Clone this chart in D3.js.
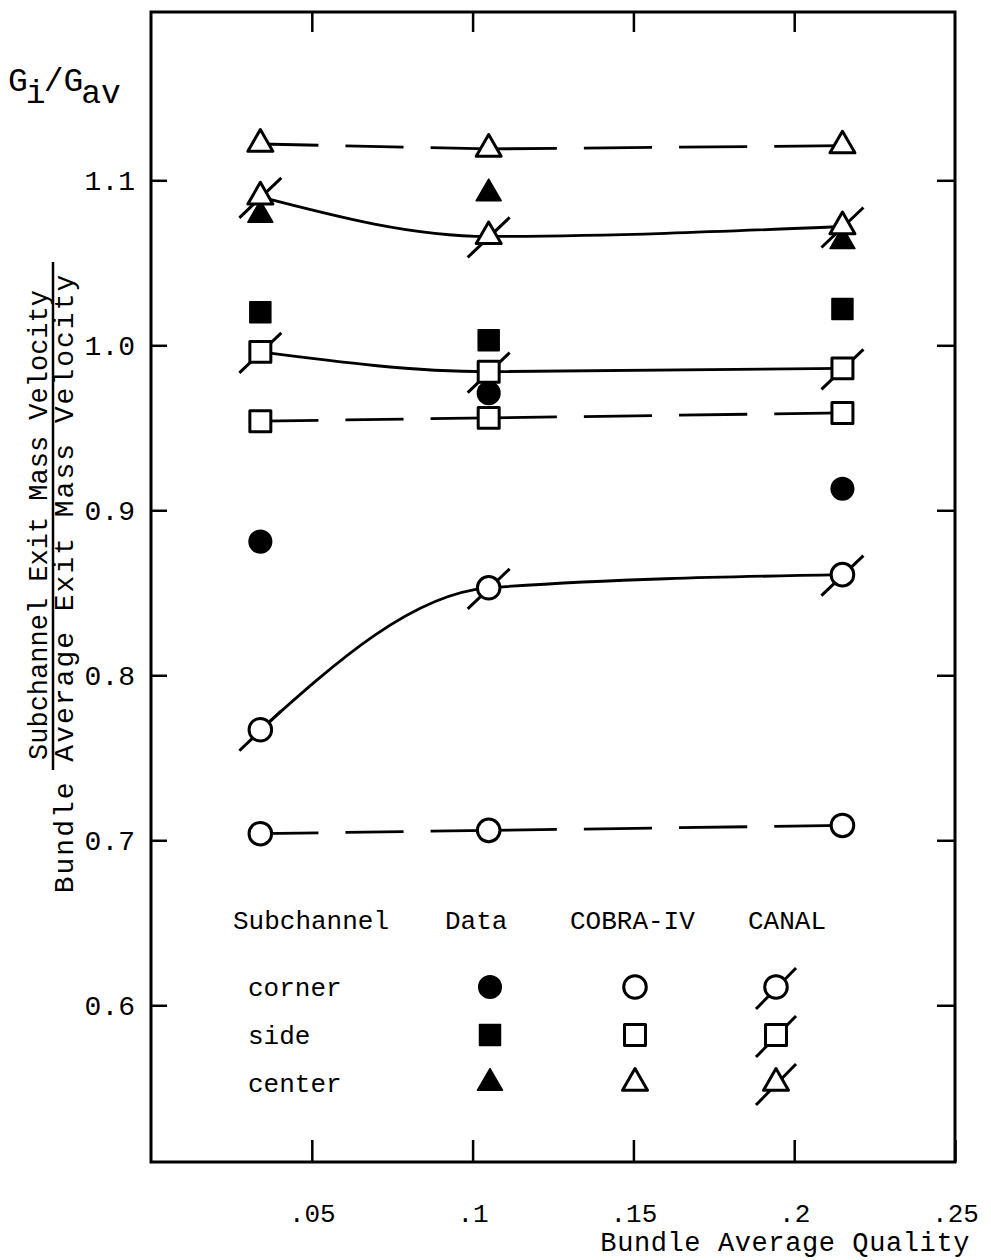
<!DOCTYPE html>
<html>
<head>
<meta charset="utf-8">
<script src="https://cdn.jsdelivr.net/npm/d3@7"></script>
<style>
  body { margin: 0; background: #fff; }
  text { font-family: "Liberation Mono", "DejaVu Sans Mono", monospace; fill: #000; }
</style>
</head>
<body>
<div id="chart"></div>
<script>
var width = 991,
    height = 1260;

// x positions (bundle average quality) of the three test points
var quality = [0.034, 0.105, 0.215];

// measured data (filled markers)
var dataCorner = [0.881, 0.971, 0.913];
var dataSide   = [1.020, 1.003, 1.022];
var dataCenter = [1.079, 1.092, 1.063];

// COBRA-IV predictions (open markers, dashed lines)
var cobraCorner = [0.704, 0.706, 0.709];
var cobraSide   = [0.954, 0.956, 0.959];
var cobraCenter = [1.122, 1.119, 1.121];

// CANAL predictions (slashed markers, solid curves)
var canalCorner = [0.767, 0.853, 0.861];
var canalSide   = [0.996, 0.984, 0.986];
var canalCenter = [1.090, 1.066, 1.072];

var xTickValues = [0.05, 0.1, 0.15, 0.2, 0.25];
var xTickLabels = [".05", ".1", ".15", ".2", ".25"];
var yTickValues = [0.6, 0.7, 0.8, 0.9, 1.0, 1.1];
var yTickLabels = ["0.6", "0.7", "0.8", "0.9", "1.0", "1.1"];

var legendCols = ["Subchannel", "Data", "COBRA-IV", "CANAL"];
var legendRows = ["corner", "side", "center"];

var x = d3.scaleLinear().domain([0, 0.25]).range([151, 955]);
var y = d3.scaleLinear().domain([0.505, 1.202]).range([1162, 12]);

var svg = d3.select("#chart").append("svg")
    .attr("width", width)
    .attr("height", height);

// axes, ticks pointing inward
svg.append("g")
    .attr("transform", "translate(0," + y.range()[0] + ")")
    .call(d3.axisBottom(x).tickValues(xTickValues)
        .tickFormat(function(d, i) { return xTickLabels[i]; })
        .tickSize(-22).tickPadding(42))
    .call(styleAxis)
    .selectAll("text").style("font-size", "26px");

svg.append("g")
    .attr("transform", "translate(0," + y.range()[1] + ")")
    .call(d3.axisTop(x).tickValues(xTickValues.slice(0, 4)).tickFormat("").tickSize(-20))
    .call(styleAxis);

svg.append("g")
    .attr("transform", "translate(" + x.range()[0] + ",0)")
    .call(d3.axisLeft(y).tickValues(yTickValues)
        .tickFormat(function(d, i) { return yTickLabels[i]; })
        .tickSize(-16).tickPadding(16))
    .call(styleAxis)
    .selectAll("text").style("font-size", "28px");

svg.append("g")
    .attr("transform", "translate(" + x.range()[1] + ",0)")
    .call(d3.axisRight(y).tickValues(yTickValues).tickFormat("").tickSize(-18))
    .call(styleAxis);

function styleAxis(g) {
    g.select(".domain").remove();
    g.selectAll("line").attr("stroke", "#000").attr("stroke-width", 2.5);
    g.selectAll("text").attr("fill", "#000")
        .style("font-family", "'Liberation Mono', monospace");
}

// frame
svg.append("rect")
    .attr("x", x.range()[0])
    .attr("y", y.range()[1])
    .attr("width", x.range()[1] - x.range()[0])
    .attr("height", y.range()[0] - y.range()[1])
    .attr("fill", "none")
    .attr("stroke", "#000")
    .attr("stroke-width", 3);

// axis titles
svg.append("text")
    .attr("x", 970)
    .attr("y", 1251)
    .attr("text-anchor", "end")
    .style("font-size", "27px")
    .style("letter-spacing", "0.6px")
    .text("Bundle Average Quality");

var g_lab = svg.append("text")
    .attr("x", 8)
    .attr("y", 91)
    .style("font-size", "33px");
g_lab.append("tspan").text("G");
g_lab.append("tspan").attr("dy", 12).attr("dx", -2).text("i");
g_lab.append("tspan").attr("dy", -12).attr("dx", -2).text("/G");
g_lab.append("tspan").attr("dy", 12).attr("dx", -2).text("av");

svg.append("text")
    .attr("transform", "translate(47,525) rotate(-90)")
    .attr("text-anchor", "middle")
    .style("font-size", "27px")
    .text("Subchannel Exit Mass Velocity");

svg.append("line")
    .attr("x1", 53).attr("x2", 53)
    .attr("y1", 262)
    .attr("y2", 770)
    .attr("stroke", "#000")
    .attr("stroke-width", 2.5);

svg.append("text")
    .attr("transform", "translate(73,583) rotate(-90)")
    .attr("text-anchor", "middle")
    .style("font-size", "28px")
    .style("letter-spacing", "2px")
    .text("Bundle Average Exit Mass Velocity");

// marker shapes
var shapes = {
    corner: d3.symbol().type(d3.symbolCircle).size(400),
    side: d3.symbol().type(d3.symbolSquare).size(440),
    center: d3.symbol().type(d3.symbolTriangle).size(270)
};

function pts(vals) {
    return vals.map(function(v, i) { return [quality[i], v]; });
}

// COBRA-IV dashed lines: each segment dashed so that it ends solid at the markers
function dashedSegments(vals) {
    var p = pts(vals);
    for (var i = 0; i < p.length - 1; i++) {
        var x0 = x(p[i][0]), y0 = y(p[i][1]), x1 = x(p[i + 1][0]), y1 = y(p[i + 1][1]);
        var L = Math.hypot(x1 - x0, y1 - y0), gap = 27;
        var n = Math.max(1, Math.round((L + gap) / (62 + gap)));
        var dash = (L - (n - 1) * gap) / n;
        svg.append("path")
            .attr("d", d3.line()([[x0, y0], [x1, y1]]))
            .attr("fill", "none")
            .attr("stroke", "#000")
            .attr("stroke-width", 2.8)
            .attr("stroke-dasharray", dash + "," + gap);
    }
}
[cobraCorner, cobraSide, cobraCenter].forEach(dashedSegments);

// CANAL smooth curves
var curve = d3.line()
    .x(function(d) { return x(d[0]); })
    .y(function(d) { return y(d[1]); })
    .curve(d3.curveMonotoneX);

[canalCorner, canalSide, canalCenter].forEach(function(vals) {
    svg.append("path")
        .attr("d", curve(pts(vals)))
        .attr("fill", "none")
        .attr("stroke", "#000")
        .attr("stroke-width", 2.8);
});

function drawFilled(vals, kind, g) {
    g.selectAll(null)
        .data(pts(vals))
        .enter().append("path")
        .attr("transform", function(d) { return "translate(" + x(d[0]) + "," + y(d[1]) + ")"; })
        .attr("d", shapes[kind])
        .attr("fill", "#000")
        .attr("stroke", "#000")
        .attr("stroke-width", 1.5)
        .attr("stroke-linejoin", "round");
}

function drawOpen(vals, kind, g) {
    g.selectAll(null)
        .data(pts(vals))
        .enter().append("path")
        .attr("transform", function(d) { return "translate(" + x(d[0]) + "," + y(d[1]) + ")"; })
        .attr("d", shapes[kind])
        .attr("fill", "#fff")
        .attr("stroke", "#000")
        .attr("stroke-width", 3)
        .attr("stroke-linejoin", "round");
}

function drawSlashed(vals, kind, g) {
    var grp = g.selectAll(null)
        .data(pts(vals))
        .enter().append("g")
        .attr("transform", function(d) { return "translate(" + x(d[0]) + "," + y(d[1]) + ")"; });
    grp.append("line")
        .attr("x1", -21).attr("y1", 21)
        .attr("x2", 21).attr("y2", -19)
        .attr("stroke", "#000")
        .attr("stroke-width", 3);
    grp.append("path")
        .attr("d", shapes[kind])
        .attr("fill", "#fff")
        .attr("stroke", "#000")
        .attr("stroke-width", 3)
        .attr("stroke-linejoin", "round");
}

var markers = svg.append("g");
drawFilled(dataCorner, "corner", markers);
drawFilled(dataSide, "side", markers);
drawFilled(dataCenter, "center", markers);
drawOpen(cobraCorner, "corner", markers);
drawOpen(cobraSide, "side", markers);
drawOpen(cobraCenter, "center", markers);
drawSlashed(canalCorner, "corner", markers);
drawSlashed(canalSide, "side", markers);
drawSlashed(canalCenter, "center", markers);

// legend
var legX = { "Subchannel": 233, "Data": 445, "COBRA-IV": 570, "CANAL": 748 };
var legMarkX = [490, 635, 776];
var legRow = d3.scalePoint().domain(legendRows).range([987, 1083]);

svg.selectAll(".leghead")
    .data(legendCols)
    .enter().append("text")
    .attr("class", "leghead")
    .attr("x", function(d) { return legX[d]; })
    .attr("y", 929)
    .style("font-size", "26px")
    .text(function(d) { return d; });

svg.selectAll(".legrow")
    .data(legendRows)
    .enter().append("text")
    .attr("class", "legrow")
    .attr("x", 248)
    .attr("y", function(d) { return legRow(d) + 9; })
    .style("font-size", "26px")
    .text(function(d) { return d; });

var legG = svg.append("g");
legendRows.forEach(function(r) {
    var cy = legRow(r);
    legG.append("path")
        .attr("transform", "translate(" + legMarkX[0] + "," + cy + ")")
        .attr("d", shapes[r])
        .attr("fill", "#000")
        .attr("stroke", "#000")
        .attr("stroke-width", 1.5)
        .attr("stroke-linejoin", "round");
    legG.append("path")
        .attr("transform", "translate(" + legMarkX[1] + "," + cy + ")")
        .attr("d", shapes[r])
        .attr("fill", "#fff")
        .attr("stroke", "#000")
        .attr("stroke-width", 3)
        .attr("stroke-linejoin", "round");
    var sg = legG.append("g")
        .attr("transform", "translate(" + legMarkX[2] + "," + cy + ")");
    sg.append("line")
        .attr("x1", -20).attr("y1", 22)
        .attr("x2", 20).attr("y2", -19)
        .attr("stroke", "#000")
        .attr("stroke-width", 3);
    sg.append("path")
        .attr("d", shapes[r])
        .attr("fill", "#fff")
        .attr("stroke", "#000")
        .attr("stroke-width", 3)
        .attr("stroke-linejoin", "round");
});
</script>
</body>
</html>
